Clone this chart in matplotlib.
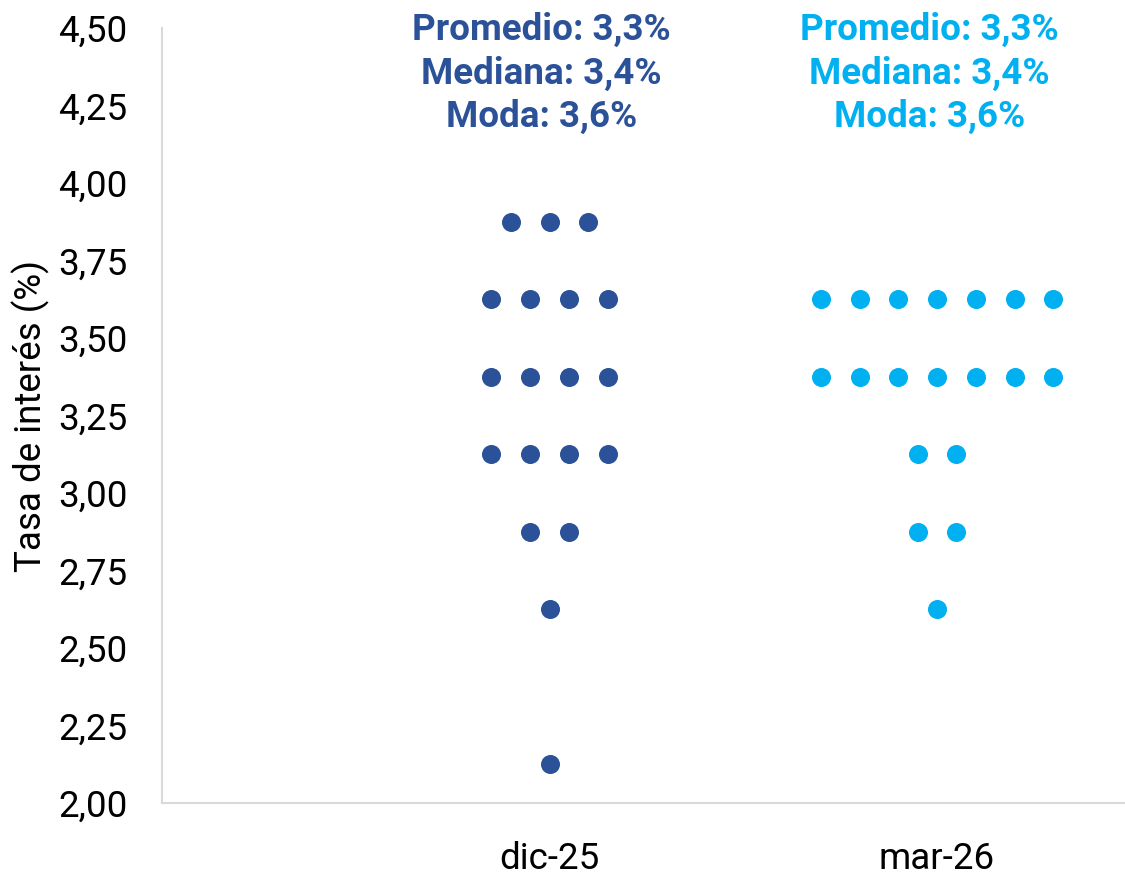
import numpy as np
import matplotlib.pyplot as plt

plt.rcParams['font.family'] = ['Roboto', 'DejaVu Sans']

# Datos: tasas esperadas y número de respuestas por nivel
categorias = ['dic-25', 'mar-26']
niveles_dic = [3.875, 3.625, 3.375, 3.125, 2.875, 2.625, 2.125]
conteo_dic = [3, 4, 4, 4, 2, 1, 1]
niveles_mar = [3.625, 3.375, 3.125, 2.875, 2.625]
conteo_mar = [7, 7, 2, 2, 1]
resumen = [
    ['Promedio: 3,3%', 'Mediana: 3,4%', 'Moda: 3,6%'],
    ['Promedio: 3,3%', 'Mediana: 3,4%', 'Moda: 3,6%'],
]
colores = ['#2B5198', '#00B0F0']

fig = plt.figure(figsize=(11.25, 8.76), dpi=100)
ax = fig.add_axes([0.144, 0.0833, 0.856, 0.8847])

paso = 0.1  # separación horizontal entre puntos
series = [(niveles_dic, conteo_dic), (niveles_mar, conteo_mar)]
for i, (niveles, conteo) in enumerate(series):
    xc = i + 1
    xs, ys = [], []
    for nivel, n in zip(niveles, conteo):
        offs = (np.arange(n) - (n - 1) / 2) * paso
        xs.extend(xc + offs)
        ys.extend([nivel] * n)
    ax.plot(xs, ys, 'o', color=colores[i], markersize=13.7, markeredgewidth=0,
            linestyle='none', clip_on=False)
    # texto de resumen arriba
    for linea, y in zip(resumen[i], [4.493, 4.353, 4.213]):
        ax.text(xc - 0.02, y, linea, ha='center', va='center', color=colores[i],
                fontsize=26.5, fontweight='bold', clip_on=False)

ax.set_xlim(0, 2.485)
ax.set_ylim(2.0, 4.5)
ax.set_yticks(np.arange(2.0, 4.51, 0.25))
ax.set_yticklabels([f'{v:.2f}'.replace('.', ',') for v in np.arange(2.0, 4.51, 0.25)])
ax.set_xticks([1, 2])
ax.set_xticklabels(categorias)
ax.tick_params(axis='y', length=0, pad=25, labelsize=26.5)
ax.tick_params(axis='x', length=0, pad=27, labelsize=26.5)

for s in ['top', 'right']:
    ax.spines[s].set_visible(False)
for s in ['left', 'bottom']:
    ax.spines[s].set_color('#D9D9D9')
    ax.spines[s].set_linewidth(1.5)

fig.text(0.027, 0.525, 'Tasa de interés (%)', rotation=90, ha='center', va='center',
         fontsize=26.5)

fig.savefig('out.png', dpi=100)
